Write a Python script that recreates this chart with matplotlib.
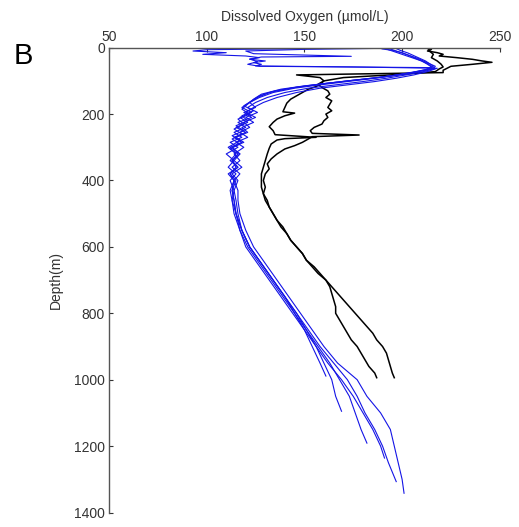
import matplotlib.pyplot as plt

# blue profiles (depth m, dissolved oxygen umol/L)
b1_d = [0, 4, 8, 15, 22, 30, 40, 50, 58, 66, 75, 85, 95, 105, 115, 125, 140, 155, 170, 185, 200, 215, 230,
        245, 260, 275, 290, 305, 320, 340, 360, 380, 400, 430, 460, 500, 550, 600, 650, 700, 750, 800, 850,
        900, 950, 989]
b1_o = [188, 190, 195, 200, 203, 206, 210, 213, 215, 212, 205, 195, 180, 165, 150, 138, 128, 124, 121, 118,
        122, 116, 119, 114, 118, 113, 117, 112, 116, 113, 115, 112, 114, 113, 114, 115, 118, 122, 128, 134,
        140, 145, 150, 154, 158, 161]

b2_d = [0, 3, 6, 10, 15, 20, 25, 30, 35, 40, 45, 50, 55, 58, 62, 70, 80, 90, 100, 110, 120, 135, 150, 165,
        180, 195, 210, 225, 240, 255, 270, 285, 300, 320, 340, 360, 380, 400, 430, 460, 500, 550, 600, 650,
        700, 750, 800, 850, 900, 950, 1000, 1050, 1095]
b2_o = [200, 150, 100, 93, 110, 98, 120, 127, 122, 130, 124, 128, 125, 175, 218, 210, 200, 188, 172, 158,
        145, 132, 126, 122, 118, 123, 117, 121, 115, 120, 114, 118, 112, 117, 113, 116, 112, 115, 113, 114,
        115, 118, 122, 128, 134, 140, 146, 151, 156, 160, 164, 166, 169]

b3_d = [0, 5, 10, 18, 26, 28, 34, 42, 50, 56, 60, 68, 78, 88, 98, 108, 118, 130, 145, 160, 175, 190, 205,
        220, 235, 250, 265, 280, 300, 320, 340, 360, 380, 400, 430, 460, 500, 550, 600, 650, 700, 750, 800,
        850, 900, 950, 1000, 1050, 1100, 1150, 1191]
b3_o = [215, 150, 120, 124, 174, 128, 122, 126, 121, 127, 215, 212, 203, 190, 175, 160, 147, 135, 127, 123,
        119, 124, 118, 121, 115, 119, 113, 117, 111, 115, 112, 116, 111, 114, 112, 113, 115, 117, 121, 127,
        133, 139, 145, 151, 157, 163, 168, 173, 176, 179, 182]

b4_d = [0, 8, 16, 24, 32, 40, 48, 56, 64, 72, 82, 92, 102, 112, 122, 135, 150, 165, 180, 195, 210, 225, 240,
        255, 270, 285, 300, 320, 340, 360, 380, 400, 430, 460, 500, 550, 600, 650, 700, 750, 800, 850, 900,
        950, 1000, 1050, 1100, 1150, 1200, 1236]
b4_o = [192, 196, 200, 204, 208, 211, 214, 216, 214, 207, 197, 186, 172, 158, 145, 134, 127, 122, 125, 119,
        123, 116, 120, 114, 118, 112, 116, 110, 114, 111, 115, 112, 114, 113, 114, 117, 120, 126, 132, 138,
        144, 150, 156, 162, 169, 175, 180, 185, 189, 191]

b5_d = [0, 8, 16, 24, 32, 40, 48, 56, 64, 72, 82, 92, 102, 112, 122, 135, 150, 165, 180, 195, 210, 225, 240,
        255, 270, 285, 300, 320, 340, 360, 380, 400, 430, 460, 500, 550, 600, 650, 700, 750, 800, 850, 900,
        950, 1000, 1050, 1100, 1150, 1200, 1250, 1307]
b5_o = [196, 199, 203, 206, 209, 212, 214, 217, 216, 211, 202, 192, 180, 166, 152, 140, 131, 125, 121, 126,
        120, 124, 118, 121, 115, 119, 113, 117, 114, 118, 113, 116, 114, 115, 116, 118, 122, 128, 134, 140,
        146, 152, 158, 165, 172, 177, 181, 186, 190, 193, 197]

b6_d = [0, 8, 16, 24, 32, 40, 48, 56, 64, 72, 82, 92, 102, 112, 122, 135, 150, 165, 180, 195, 210, 225, 240,
        255, 270, 285, 300, 320, 340, 360, 380, 400, 430, 460, 500, 550, 600, 650, 700, 750, 800, 850, 900,
        950, 1000, 1050, 1100, 1150, 1200, 1250, 1300, 1342]
b6_o = [190, 194, 198, 202, 206, 210, 213, 215, 217, 213, 206, 197, 186, 172, 158, 146, 136, 129, 124, 120,
        125, 119, 122, 117, 121, 115, 119, 114, 117, 113, 117, 114, 116, 116, 117, 120, 124, 130, 136, 142,
        148, 154, 160, 167, 177, 182, 189, 194, 196, 198, 200, 201]

# black profiles
k1_d = [0, 5, 10, 15, 20, 25, 30, 35, 40, 44, 50, 56, 62, 68, 75, 82, 90, 100, 110, 120, 130, 140, 150, 160,
        170, 180, 190, 200, 210, 220, 230, 240, 250, 258, 263, 268, 275, 285, 295, 305, 320, 335, 350, 365,
        380, 400, 420, 440, 460, 480, 500, 520, 540, 560, 580, 600, 620, 640, 660, 680, 700, 720, 740, 760,
        780, 800, 820, 840, 860, 880, 900, 920, 940, 960, 980, 994]
k1_o = [212, 215, 213, 218, 221, 219, 228, 236, 241, 246, 236, 225, 223, 221, 221, 146, 158, 160, 157, 159,
        162, 163, 161, 164, 163, 162, 164, 161, 162, 160, 159, 155, 153, 154, 178, 154, 152, 149, 145, 140,
        136, 133, 131, 132, 130, 129, 130, 129, 131, 132, 134, 136, 138, 141, 143, 146, 149, 151, 154, 157,
        161, 164, 167, 170, 173, 176, 179, 182, 185, 187, 190, 192, 193, 194, 195, 196]

k2_d = [0, 10, 20, 30, 40, 50, 58, 64, 72, 80, 90, 100, 110, 117, 125, 135, 145, 155, 167, 180, 193, 197,
        205, 215, 225, 238, 250, 262, 270, 274, 278, 290, 303, 320, 340, 360, 380, 400, 420, 440, 460, 480,
        500, 520, 540, 560, 580, 600, 620, 640, 660, 680, 700, 720, 740, 760, 780, 800, 820, 840, 860, 880,
        900, 920, 940, 960, 980, 994]
k2_o = [213, 214, 216, 215, 218, 220, 221, 219, 217, 200, 170, 160, 158, 156, 152, 149, 146, 143, 141, 140,
        139, 145, 140, 136, 134, 132, 134, 135, 156, 140, 136, 133, 132, 131, 130, 129, 128, 128, 128, 129,
        130, 132, 134, 136, 139, 141, 143, 146, 149, 151, 155, 158, 161, 163, 164, 165, 166, 166, 168, 170,
        172, 174, 177, 179, 181, 183, 186, 187]

blue = [(b1_d, b1_o), (b2_d, b2_o), (b3_d, b3_o), (b4_d, b4_o), (b5_d, b5_o), (b6_d, b6_o)]
black = [(k1_d, k1_o), (k2_d, k2_o)]

plt.rcParams['font.family'] = ['Liberation Sans', 'DejaVu Sans']
fig = plt.figure(figsize=(5.19, 5.27), dpi=100)
ax = fig.add_axes([0.21, 0.0275, 0.753, 0.882])

for d, o in black:
    ax.plot(o, d, color='black', lw=1.1)
for d, o in blue:
    ax.plot(o, d, color='#1414e6', lw=0.8)

ax.set_xlim(50, 250)
ax.set_ylim(1400, 0)
ax.set_xticks([50, 100, 150, 200, 250])
ax.set_yticks([0, 200, 400, 600, 800, 1000, 1200, 1400])
ax.xaxis.tick_top()
ax.xaxis.set_label_position('top')
ax.set_xlabel('Dissolved Oxygen (µmol/L)', fontsize=10, color='#333333', labelpad=6)
ax.set_ylabel('Depth(m)', fontsize=10, color='#333333', labelpad=8)
ax.tick_params(axis='both', direction='in', length=3, labelsize=10, colors='#333333', pad=3)
ax.spines['right'].set_visible(False)
ax.spines['bottom'].set_visible(False)
for s in ['top', 'left']:
    ax.spines[s].set_color('#555555')
    ax.spines[s].set_linewidth(1.0)

fig.text(0.044, 0.894, 'B', fontsize=21, ha='center', va='center')

fig.savefig('out.png')
